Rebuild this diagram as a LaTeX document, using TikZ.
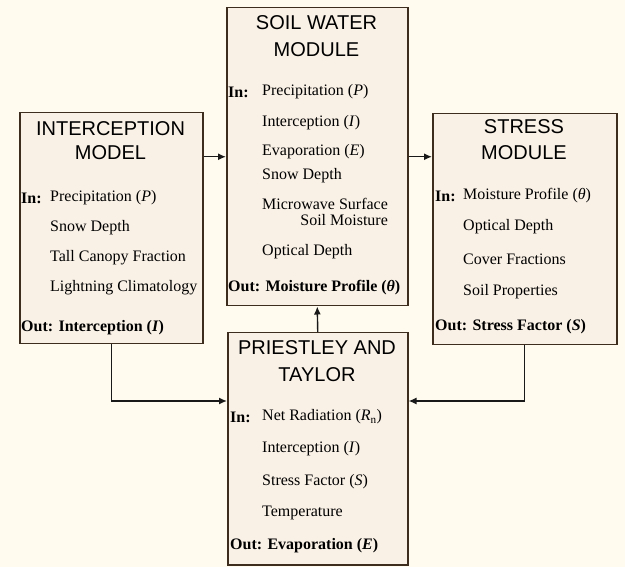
\documentclass[tikz,border=0pt]{standalone}
\usepackage{fontspec}
\setmainfont{Liberation Serif}
\newfontfamily\headfont{Liberation Sans}
\usetikzlibrary{arrows.meta}

\definecolor{paper}{RGB}{255,251,238}
\definecolor{boxfill}{RGB}{250,241,230}
\definecolor{boxline}{RGB}{60,45,30}

\tikzset{
  module/.style={draw=boxline, fill=boxfill, line width=1.5pt, rectangle, anchor=north west, inner sep=0pt},
  head/.style={font=\headfont\fontsize{20}{20}\selectfont, inner sep=0pt},
  item/.style={font=\fontsize{16}{16}\selectfont, anchor=west, inner sep=0pt},
  link/.style={draw=black!90, line width=1.4pt, -{Latex[length=8pt,width=7pt]}}
}

\begin{document}
\begin{tikzpicture}[x=1pt,y=-1pt]
	\useasboundingbox (0,0) rectangle (625,567);
	\fill[paper] (0,0) rectangle (625,567);

	% the four boxes
	\node[module, minimum width=183pt, minimum height=231pt] (interc) at (19,112) {};
	\node[module, minimum width=181pt, minimum height=298pt] (soil) at (226,7) {};
	\node[module, minimum width=184pt, minimum height=231pt] (stress) at (432,113) {};
	\node[module, minimum width=180pt, minimum height=232pt] (prie) at (227,332) {};

	% interception model
	\node[head] (interc-h1) at (110.5,129) {INTERCEPTION};
	\node[head] (interc-h2) at (110.5,153) {MODEL};
	\node[item] (interc-in) at (21,198) {\textbf{In:}};
	\foreach \y/\txt [count=\k] in {198/Precipitation (\textit{P}), 228/Snow Depth, 258/Tall Canopy Fraction, 288/Lightning Climatology}
		\node[item] (interc-\k) at (50,\y) {\txt};
	\node[item] (interc-out) at (21,328) {\textbf{Out: Interception (\textit{I})}};

	% soil water module
	\node[head] (soil-h1) at (316.5,23) {SOIL WATER};
	\node[head] (soil-h2) at (316.5,50) {MODULE};
	\node[item] (soil-in) at (228,92) {\textbf{In:}};
	\foreach \y/\txt [count=\k] in {92/Precipitation (\textit{P}), 123/Interception (\textit{I}), 152/Evaporation (\textit{E}), 176/Snow Depth, 204/Microwave Surface, 252/Optical Depth}
		\node[item] (soil-\k) at (262,\y) {\txt};
	\node[item, anchor=east] (soil-7) at (soil-5.east |- 0,220) {Soil Moisture};
	\node[item] (soil-out) at (228,288) {\textbf{Out: Moisture Profile (\textit{θ})}};

	% stress module
	\node[head] (stress-h1) at (524,127) {STRESS};
	\node[head] (stress-h2) at (524,153) {MODULE};
	\node[item] (stress-in) at (435,196) {\textbf{In:}};
	\foreach \y/\txt [count=\k] in {196/Moisture Profile (\textit{θ}), 227/Optical Depth, 259/Cover Fractions, 292/Soil Properties}
		\node[item] (stress-\k) at (463,\y) {\txt};
	\node[item] (stress-out) at (435,327) {\textbf{Out: Stress Factor (\textit{S})}};

	% priestley and taylor
	\node[head] (prie-h1) at (317,348) {PRIESTLEY AND};
	\node[head] (prie-h2) at (317,375) {TAYLOR};
	\node[item] (prie-in) at (230,417) {\textbf{In:}};
	\foreach \y/\txt [count=\k] in {417/Net Radiation (\textit{R}\textsubscript{n}), 449/Interception (\textit{I}), 482/Stress Factor (\textit{S}), 513/Temperature}
		\node[item] (prie-\k) at (262,\y) {\txt};
	\node[item] (prie-out) at (230,546) {\textbf{Out: Evaporation (\textit{E})}};

	% connectors
	\draw[link] (soil.west -| interc.east) -- (soil.west);
	\draw[link] (soil.east) -- (soil.east -| stress.west);
	\draw[link] (prie.north) -- (soil.south);
	\draw[link] (interc.south) |- ([yshift=-69pt]prie.north west);
	\draw[link] (stress.south) |- ([yshift=-69pt]prie.north east);
\end{tikzpicture}
\end{document}
